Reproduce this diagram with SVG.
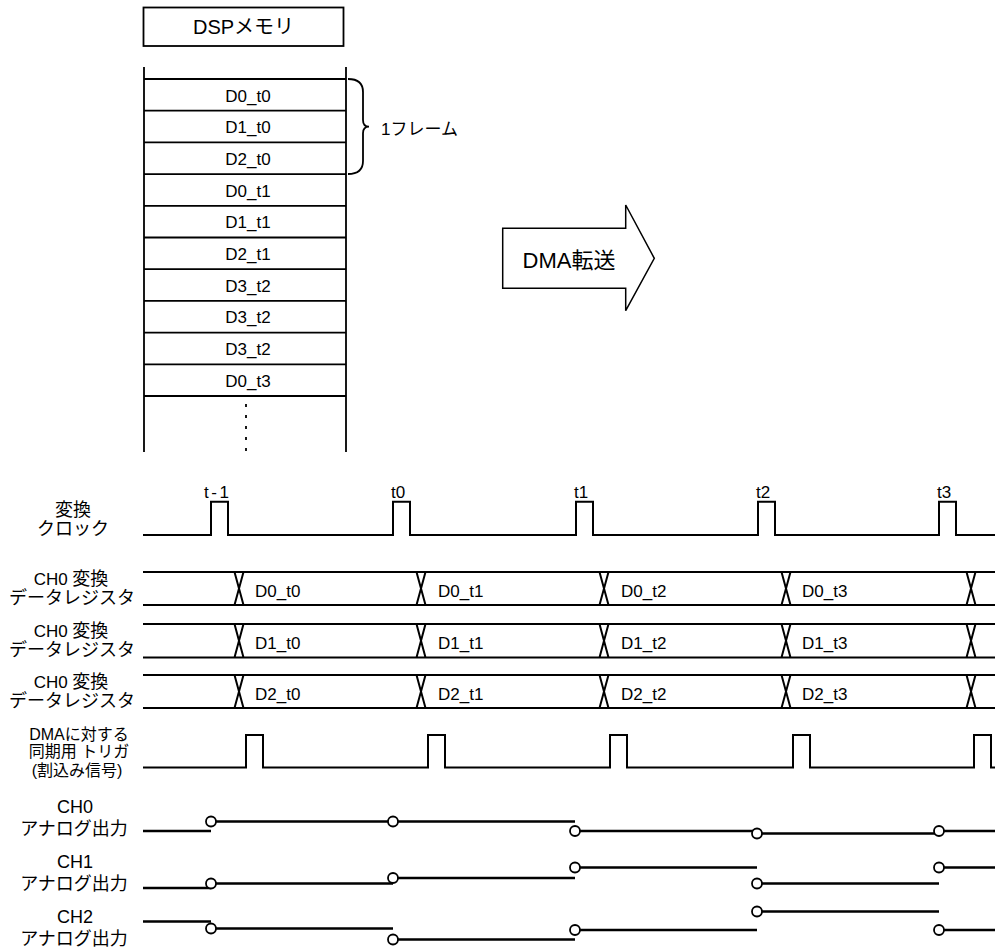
<svg xmlns="http://www.w3.org/2000/svg" width="995" height="949" viewBox="0 0 995 949">
<style>
text{font-family:"Liberation Sans","Noto Sans CJK JP",sans-serif;fill:#000}
.m{font-size:17px;text-anchor:middle}
.d{font-size:17px}
.lbl{font-size:18px;text-anchor:middle}
.small{font-size:17px}
.trg{font-size:16px;text-anchor:middle}
.ln{fill:none;stroke:#000;stroke-width:1.8}
.sig{fill:none;stroke:#000;stroke-width:2}
.an{fill:none;stroke:#000;stroke-width:2.6}
.dot{fill:#fff;stroke:#000;stroke-width:1.8}
</style>
<defs>
<circle id="c" r="5" class="dot"/>
</defs>
<rect width="995" height="949" fill="#fff"/>

<g id="dsp-title">
<rect x="143.5" y="7.5" width="200" height="38.5" class="ln" stroke-width="1.5"/>
<text x="243.5" y="34" style="font-size:20px;text-anchor:middle">DSPメモリ</text>
</g>

<g id="memory">
<path class="ln" d="M144,67V452M346,67V452M144,79H346M144,110.7H346M144,142.4H346M144,174.1H346M144,205.8H346M144,237.5H346M144,269.2H346M144,300.9H346M144,332.6H346M144,364.3H346M144,396H346"/>
<path class="ln" d="M246,404V452" stroke-dasharray="3 8"/>
<text class="m" x="248" y="101.5">D0_t0</text>
<text class="m" x="248" y="133.2">D1_t0</text>
<text class="m" x="248" y="164.9">D2_t0</text>
<text class="m" x="248" y="196.6">D0_t1</text>
<text class="m" x="248" y="228.3">D1_t1</text>
<text class="m" x="248" y="260">D2_t1</text>
<text class="m" x="248" y="291.7">D3_t2</text>
<text class="m" x="248" y="323.4">D3_t2</text>
<text class="m" x="248" y="355.1">D3_t2</text>
<text class="m" x="248" y="386.8">D0_t3</text>
</g>

<g id="frame-brace">
<path class="ln" stroke-width="1.5" d="M348,79Q363,79 363,92V120Q363,126.7 369,126.7Q363,126.7 363,133.3V161Q363,174 348,174"/>
<text x="381" y="135" style="font-size:17px">1フレーム</text>
</g>

<g id="dma-arrow">
<polygon points="502.7,228.3 625.7,228.3 625.7,205 654.3,258.3 625.7,310.7 625.7,288.3 502.7,288.3" fill="#fff" stroke="#000" stroke-width="1.5"/>
<text x="569" y="268" style="font-size:22px;text-anchor:middle">DMA転送</text>
</g>

<g id="labels">
<text class="lbl" x="73" y="516">変換</text>
<text class="lbl" x="73" y="535">クロック</text>
<text class="lbl" x="71" y="585"><tspan class="small">CH0 </tspan>変換</text>
<text class="lbl" x="72" y="604">データレジスタ</text>
<text class="lbl" x="71" y="637"><tspan class="small">CH0 </tspan>変換</text>
<text class="lbl" x="72" y="656">データレジスタ</text>
<text class="lbl" x="71" y="688"><tspan class="small">CH0 </tspan>変換</text>
<text class="lbl" x="72" y="707">データレジスタ</text>
<text class="trg" x="79" y="740">DMAに対する</text>
<text class="trg" x="79" y="757">同期用 トリガ</text>
<text class="trg" x="77" y="776">(割込み信号)</text>
<text class="lbl" x="75" y="813">CH0</text>
<text class="lbl" x="74" y="835">アナログ出力</text>
<text class="lbl" x="75" y="868">CH1</text>
<text class="lbl" x="74" y="890">アナログ出力</text>
<text class="lbl" x="75" y="923">CH2</text>
<text class="lbl" x="74" y="945">アナログ出力</text>
</g>

<g id="clock">
<path class="sig" d="M143,535H211V501.7H228V535H393V501.7H410V535H576V501.7H593V535H758V501.7H775V535H939V501.7H956V535H995"/>
<text x="204" y="498" style="font-size:17px;letter-spacing:2.5px">t-1</text>
<text x="391" y="498" style="font-size:17px">t0</text>
<text x="574" y="498" style="font-size:17px">t1</text>
<text x="756" y="498" style="font-size:17px">t2</text>
<text x="937" y="498" style="font-size:17px">t3</text>
</g>

<g id="reg-d0">
<path class="sig" d="M143,572H995M143,605H995M234.5,572L243.5,605M243.5,572L234.5,605M416.5,572L425.5,605M425.5,572L416.5,605M599.5,572L608.5,605M608.5,572L599.5,605M781.5,572L790.5,605M790.5,572L781.5,605M966.5,572L975.5,605M975.5,572L966.5,605"/>
<text class="d" x="255" y="596.5">D0_t0</text>
<text class="d" x="438" y="596.5">D0_t1</text>
<text class="d" x="621" y="596.5">D0_t2</text>
<text class="d" x="802" y="596.5">D0_t3</text>
</g>

<g id="reg-d1">
<path class="sig" d="M143,624H995M143,657.5H995M234.5,624L243.5,657.5M243.5,624L234.5,657.5M416.5,624L425.5,657.5M425.5,624L416.5,657.5M599.5,624L608.5,657.5M608.5,624L599.5,657.5M781.5,624L790.5,657.5M790.5,624L781.5,657.5M966.5,624L975.5,657.5M975.5,624L966.5,657.5"/>
<text class="d" x="255" y="649">D1_t0</text>
<text class="d" x="438" y="649">D1_t1</text>
<text class="d" x="621" y="649">D1_t2</text>
<text class="d" x="802" y="649">D1_t3</text>
</g>

<g id="reg-d2">
<path class="sig" d="M143,675H995M143,708H995M234.5,675L243.5,708M243.5,675L234.5,708M416.5,675L425.5,708M425.5,675L416.5,708M599.5,675L608.5,708M608.5,675L599.5,708M781.5,675L790.5,708M790.5,675L781.5,708M966.5,675L975.5,708M975.5,675L966.5,708"/>
<text class="d" x="255" y="699.5">D2_t0</text>
<text class="d" x="438" y="699.5">D2_t1</text>
<text class="d" x="621" y="699.5">D2_t2</text>
<text class="d" x="802" y="699.5">D2_t3</text>
</g>

<g id="dma-trigger">
<path class="sig" d="M143,767.5H246V735H263V767.5H428V735H445V767.5H610V735H627V767.5H793V735H810V767.5H974V735H991V767.5H995"/>
</g>

<g id="ch0-out">
<path class="an" d="M143,831H211M216,821.5H393M398,821.5H575M580,831H757M762,833.5H939M944,831H995"/>
<use href="#c" x="211" y="821.5"/><use href="#c" x="393" y="821.5"/><use href="#c" x="575" y="831"/><use href="#c" x="757" y="833.5"/><use href="#c" x="939" y="831"/>
</g>

<g id="ch1-out">
<path class="an" d="M143,888H211M216,883.5H393M398,878H575M580,867.5H757M762,883.5H939M944,867.5H995"/>
<use href="#c" x="211" y="883.5"/><use href="#c" x="393" y="878"/><use href="#c" x="575" y="867.5"/><use href="#c" x="757" y="883.5"/><use href="#c" x="939" y="867.5"/>
</g>

<g id="ch2-out">
<path class="an" d="M143,921.5H211M216,928.5H393M398,939.5H575M580,930H757M762,911.5H939M944,930H995"/>
<use href="#c" x="211" y="928.5"/><use href="#c" x="393" y="939.5"/><use href="#c" x="575" y="930"/><use href="#c" x="757" y="911.5"/><use href="#c" x="939" y="930"/>
</g>
</svg>
